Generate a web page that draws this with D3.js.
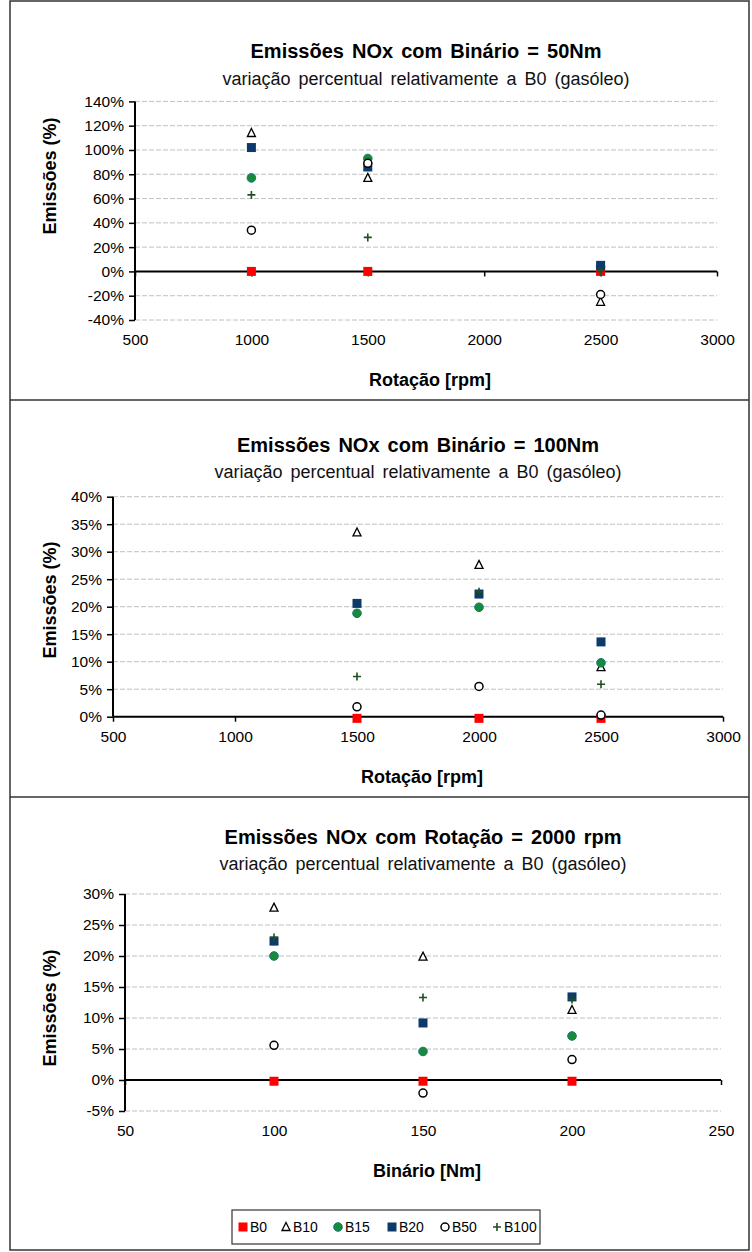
<!DOCTYPE html>
<html><head><meta charset="utf-8">
<script src="https://cdn.jsdelivr.net/npm/d3@7"></script>
<style>body{margin:0;background:#fff}svg{display:block}text{font-family:"Liberation Sans",Arial,sans-serif}</style>
</head><body>
<script>
// ---------- DATA ----------
const seriesNames = ["B0","B10","B15","B20","B50","B100"];

// Panel 1: Binário = 50Nm (x = rotação rpm)
const p1X = [1000, 1500, 2500];
const p1B0 = [0, 0, 0];
const p1B10 = [114, 77, -25];
const p1B15 = [77, 93, 4];
const p1B20 = [102, 86, 5];
const p1B50 = [34, 89, -19];
const p1B100 = [63, 28, 0];
const p1YTicks = [-40,-20,0,20,40,60,80,100,120,140];
const p1XTicks = [500,1000,1500,2000,2500,3000];

// Panel 2: Binário = 100Nm
const p2X = [1500, 2000, 2500];
const p2B0 = [-0.3, -0.3, -0.3];
const p2B10 = [33.5, 27.6, 9.0];
const p2B15 = [18.8, 19.9, 9.8];
const p2B20 = [20.6, 22.3, 13.6];
const p2B50 = [1.8, 5.5, 0.3];
const p2B100 = [7.3, 22.7, 5.9];
const p2YTicks = [0,5,10,15,20,25,30,35,40];
const p2XTicks = [500,1000,1500,2000,2500,3000];

// Panel 3: Rotação = 2000 rpm (x = binário Nm)
const p3X = [100, 150, 200];
const p3B0 = [-0.2, -0.2, -0.2];
const p3B10 = [27.8, 19.9, 11.3];
const p3B15 = [20.0, 4.6, 7.1];
const p3B20 = [22.4, 9.2, 13.4];
const p3B50 = [5.6, -2.1, 3.3];
const p3B100 = [23.0, 13.3, 13.0];
const p3YTicks = [-5,0,5,10,15,20,25,30];
const p3XTicks = [50,100,150,200,250];

const titles = ["Emissões NOx com Binário = 50Nm","Emissões NOx com Binário = 100Nm","Emissões NOx com Rotação = 2000 rpm"];
const subtitle = "variação percentual relativamente a B0 (gasóleo)";
const xTitles = ["Rotação [rpm]","Rotação [rpm]","Binário [Nm]"];
const yTitle = "Emissões (%)";

// ---------- STYLE ----------
const W = 752, H = 1252;
const svg = d3.select("body").append("svg").attr("width", W).attr("height", H);
const FONT = '"Liberation Sans",Arial,sans-serif';

const markerStyle = {
  B0:   {type:"square", fill:"#ff0000", stroke:"#ff0000"},
  B10:  {type:"triangle", fill:"#ffffff", stroke:"#000000"},
  B15:  {type:"circle", fill:"#1a8a3a", stroke:"#0a7a78"},
  B20:  {type:"square", fill:"#0b3a6b", stroke:"#0b3a6b"},
  B50:  {type:"ocircle", fill:"#ffffff", stroke:"#000000"},
  B100: {type:"plus", fill:"none", stroke:"#1f4e1f"}
};

function drawMarker(g, name, cx, cy) {
  const s = markerStyle[name];
  if (s.type === "square") {
    g.append("rect").attr("x", cx-4.5).attr("y", cy-4.5).attr("width", 9).attr("height", 9)
      .attr("fill", s.fill);
  } else if (s.type === "triangle") {
    g.append("path").attr("d", `M${cx},${cy-4.5}L${cx+4},${cy+3.5}L${cx-4},${cy+3.5}Z`)
      .attr("fill", s.fill).attr("stroke", s.stroke).attr("stroke-width", 1.3);
  } else if (s.type === "circle") {
    g.append("circle").attr("cx", cx).attr("cy", cy).attr("r", 4.3)
      .attr("fill", s.fill).attr("stroke", s.stroke).attr("stroke-width", 1);
  } else if (s.type === "ocircle") {
    g.append("circle").attr("cx", cx).attr("cy", cy).attr("r", 4)
      .attr("fill", s.fill).attr("stroke", s.stroke).attr("stroke-width", 1.5);
  } else if (s.type === "plus") {
    g.append("path").attr("d", `M${cx-4},${cy}H${cx+4}M${cx},${cy-4}V${cy+4}`)
      .attr("stroke", s.stroke).attr("stroke-width", 1.6).attr("fill","none");
  }
}

const panels = [
  {x:p1X, ys:[p1B0,p1B10,p1B15,p1B20,p1B50,p1B100], yTicks:p1YTicks, xTicks:p1XTicks,
   xDom:[500,3000], xR:[135,717], yDom:[-40,140], yR:[320,101.4], titleY:51, subY:79, yTitleY:176},
  {x:p2X, ys:[p2B0,p2B10,p2B15,p2B20,p2B50,p2B100], yTicks:p2YTicks, xTicks:p2XTicks,
   xDom:[500,3000], xR:[113,723], yDom:[0,40], yR:[716.7,496.7], titleY:445, subY:472, yTitleY:600},
  {x:p3X, ys:[p3B0,p3B10,p3B15,p3B20,p3B50,p3B100], yTicks:p3YTicks, xTicks:p3XTicks,
   xDom:[50,250], xR:[125,721], yDom:[-5,30], yR:[1111,894], titleY:837, subY:864, yTitleY:1008}
];

panels.forEach((p, i) => {
  const g = svg.append("g");
  const x = d3.scaleLinear().domain(p.xDom).range(p.xR);
  const y = d3.scaleLinear().domain(p.yDom).range(p.yR);
  const x0 = p.xR[0], x1 = p.xR[1], yb = p.yR[0], yt = p.yR[1];
  const cx = (x0 + x1) / 2;

  g.append("text").attr("x", cx).attr("y", p.titleY).attr("text-anchor","middle").attr("dominant-baseline","central")
    .attr("font-size", 20).attr("font-weight","bold").attr("word-spacing", 2.5).text(titles[i]);
  g.append("text").attr("x", cx).attr("y", p.subY).attr("text-anchor","middle").attr("dominant-baseline","central")
    .attr("font-size", 18).attr("word-spacing", 3).attr("fill","#111").text(subtitle);

  g.append("g").selectAll("line").data(p.yTicks.filter(t => t !== 0)).join("line")
    .attr("x1", x0).attr("x2", x1).attr("y1", d => y(d)).attr("y2", d => y(d))
    .attr("stroke", "#c0c0c0").attr("stroke-width", 1).attr("stroke-dasharray", "5,2");

  const yAxis = d3.axisLeft(y).tickValues(p.yTicks).tickFormat(d => d + "%").tickSize(6).tickPadding(5);
  const ya = g.append("g").attr("transform", `translate(${x0},0)`).call(yAxis);
  ya.select(".domain").attr("stroke","#000").attr("stroke-width",2).attr("d", `M0,${yb}V${yt}`);
  ya.selectAll(".tick line").attr("stroke","#000").attr("stroke-width",1.5);
  ya.selectAll(".tick text").attr("font-size", 15.5).attr("fill","#000").attr("font-family", FONT);

  const xAxis = d3.axisBottom(x).tickValues(p.xTicks).tickSize(5).tickFormat("");
  const xa = g.append("g").attr("transform", `translate(0,${y(0)})`).call(xAxis);
  xa.select(".domain").attr("stroke","#000").attr("stroke-width",2).attr("d", `M${x0},0H${x1}`);
  xa.selectAll(".tick line").attr("stroke","#000").attr("stroke-width",1.5);

  const xl = d3.axisBottom(x).tickValues(p.xTicks).tickSize(0).tickPadding(14).tickFormat(d3.format("d"));
  const xlg = g.append("g").attr("transform", `translate(0,${yb})`).call(xl);
  xlg.select(".domain").remove();
  xlg.selectAll(".tick text").attr("font-size", 15.5).attr("fill","#000").attr("font-family", FONT);

  g.append("text").attr("x", cx + 4).attr("y", yb + 60).attr("text-anchor","middle").attr("dominant-baseline","central")
    .attr("font-size", 18).attr("font-weight","bold").text(xTitles[i]);
  g.append("text").attr("transform", `translate(50,${p.yTitleY}) rotate(-90)`).attr("text-anchor","middle")
    .attr("dominant-baseline","central").attr("font-size", 18).attr("font-weight","bold").text(yTitle);

  const mg = g.append("g");
  seriesNames.forEach((name, si) => {
    p.ys[si].forEach((v, k) => drawMarker(mg, name, x(p.x[k]), y(v)));
  });
});

svg.append("rect").attr("x", 10).attr("y", 1).attr("width", 739).attr("height", 1249)
  .attr("fill","none").attr("stroke","#333").attr("stroke-width",1.5);
[400, 797].forEach(yy => svg.append("line").attr("x1",10).attr("x2",749).attr("y1",yy).attr("y2",yy)
  .attr("stroke","#333").attr("stroke-width",1.5));

const lg = svg.append("g");
lg.append("rect").attr("x", 232).attr("y", 1210).attr("width", 308).attr("height", 34)
  .attr("fill","#fff").attr("stroke","#333").attr("stroke-width",1.2);
const legendX = [243, 286, 338, 392, 445, 497];
seriesNames.forEach((name, i) => {
  drawMarker(lg, name, legendX[i], 1227);
  lg.append("text").attr("x", legendX[i] + 7).attr("y", 1227).attr("dominant-baseline","central")
    .attr("font-size", 14).text(name);
});
</script>
</body></html>
